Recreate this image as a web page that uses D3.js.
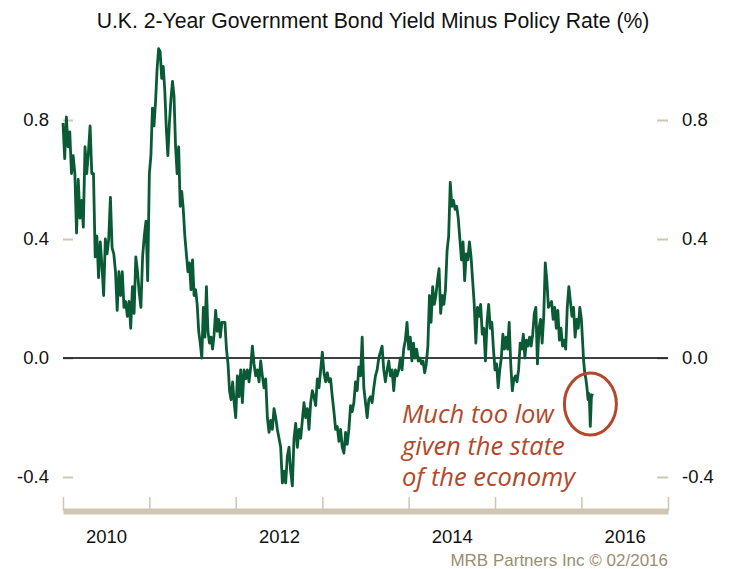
<!DOCTYPE html>
<html>
<head>
<meta charset="utf-8">
<script src="https://cdn.jsdelivr.net/npm/d3@7"></script>
<style>
  body { margin: 0; background: #fff; }
  svg { display: block; font-family: "Liberation Sans", Arial, sans-serif; }
</style>
</head>
<body>
<div id="chart"></div>
<script>
// spread values (2y gilt yield minus Bank Rate, %),
// spaced evenly through each calendar year
const v2010 = [0.79, 0.67, 0.81, 0.71, 0.76, 0.62, 0.68, 0.62, 0.42, 0.60,
  0.47, 0.53, 0.44, 0.71, 0.62, 0.69, 0.78, 0.62, 0.62, 0.34,
  0.41, 0.27, 0.39, 0.31, 0.21, 0.40, 0.35, 0.40, 0.54, 0.37,
  0.35, 0.29, 0.16, 0.29, 0.21, 0.29, 0.17, 0.19, 0.14, 0.19,
  0.10, 0.24, 0.15, 0.34, 0.29, 0.22, 0.17, 0.34, 0.41, 0.46, 0.26];
const v2011 = [0.62, 0.68, 0.84, 0.78, 0.86, 0.97, 1.04, 1.03, 0.94, 0.98, 0.90,
  0.77, 0.68, 0.79, 0.87, 0.93, 0.88, 0.71, 0.62, 0.71,
  0.51, 0.56, 0.50, 0.41, 0.35, 0.29, 0.32, 0.23, 0.33, 0.21,
  0.23, 0.18, 0.09, 0.05, 0.00, 0.17, 0.07, 0.24, 0.09, 0.05,
  0.07, 0.03, 0.08, 0.16, 0.09, 0.13, 0.07, 0.12, 0.12, 0.12,
  0.03, -0.02, -0.11, -0.14, -0.08, -0.15];
const v2012 = [-0.20, -0.06, -0.13, -0.04, -0.15, -0.04, -0.07, -0.04, -0.08, -0.03,
  0.04, -0.02, -0.06, -0.04, -0.08, -0.01, -0.06, -0.10, -0.07, -0.20,
  -0.25, -0.21, -0.24, -0.17, -0.20, -0.24, -0.27, -0.30, -0.42, -0.38,
  -0.42, -0.33, -0.30, -0.38, -0.43, -0.27, -0.22, -0.30, -0.24, -0.27,
  -0.21, -0.15, -0.20, -0.17, -0.24, -0.15, -0.11, -0.13, -0.16, -0.07,
  -0.10, -0.04];
const v2013 = [0.02, -0.05, -0.08, -0.05, -0.08, -0.07, -0.13, -0.18, -0.24, -0.23,
  -0.28, -0.24, -0.30, -0.32, -0.25, -0.29, -0.24, -0.16, -0.18, -0.15,
  -0.08, -0.11, -0.03, -0.06, 0.07, -0.10, -0.15, -0.20, -0.14, -0.13,
  -0.15, -0.10, -0.06, -0.04, 0.00, 0.02, 0.04, -0.04, -0.08, -0.04,
  -0.01, -0.06, -0.04, -0.11, -0.04, -0.06, -0.04, 0.00, -0.04, 0.03,
  0.06, 0.12];
const v2014 = [0.03, 0.07, -0.01, 0.05, 0.00, 0.03, -0.01, 0.00, -0.02, -0.01,
  -0.05, -0.02, 0.04, 0.21, 0.12, 0.24, 0.18, 0.21, 0.26, 0.30,
  0.15, 0.21, 0.18, 0.23, 0.36, 0.41, 0.59, 0.51, 0.53, 0.50,
  0.51, 0.47, 0.40, 0.33, 0.39, 0.26, 0.35, 0.33, 0.39, 0.34,
  0.26, 0.18, 0.05, 0.17, 0.14, 0.18, 0.08, 0.10, -0.01, 0.12,
  0.18, 0.10, 0.12, 0.03];
const v2015 = [-0.04, -0.02, -0.10, -0.04, 0.00, 0.08, 0.03, 0.07, 0.03, 0.12,
  -0.02, -0.11, -0.07, -0.06, -0.08, -0.04, 0.05, 0.03, 0.08, 0.00,
  0.06, 0.04, 0.07, 0.04, 0.08, 0.15, 0.17, -0.02, 0.10, 0.13,
  0.05, 0.14, 0.32, 0.26, 0.17, 0.18, 0.19, 0.13, 0.17, 0.10,
  0.16, 0.06, 0.10, 0.04, 0.06, 0.03, 0.17, 0.24, 0.19, 0.14,
  0.17, 0.07, 0.13, 0.10, 0.17];
// 2016 runs only to mid-February
const v2016 = [0.13, 0.06, -0.01, -0.05, -0.07, -0.10, -0.14, -0.12, -0.23, -0.13, -0.12];
const lastDate = new Date(2016, 1, 17);

const seriesByYear = [
  [2010, v2010], [2011, v2011], [2012, v2012], [2013, v2013],
  [2014, v2014], [2015, v2015], [2016, v2016]
];

const yTicks = [-0.4, 0, 0.4, 0.8];
const yearLabels = [2010, 2012, 2014, 2016];

const title = "U.K. 2-Year Government Bond Yield Minus Policy Rate (%)";
const note = ["Much too low", "given the state", "of the economy"];
const source = "MRB Partners Inc \u00A9 02/2016";

const width = 733, height = 569;
const margin = { top: 120, right: 65, bottom: 92, left: 63 };

const lineColor = "#0b5a36";
const rust = "#b3482b";
const beige = "#cfc7b3";

// build dated points
const data = [];
seriesByYear.forEach(([yr, vals]) => {
  const start = +new Date(yr, 0, 1);
  const partial = yr === lastDate.getFullYear();
  const end = partial ? +lastDate : +new Date(yr + 1, 0, 1);
  const n = partial ? vals.length - 1 : vals.length;
  vals.forEach((v, i) => {
    data.push({ date: new Date(start + (end - start) * i / n), value: v });
  });
});

const svg = d3.select("#chart").append("svg")
  .attr("width", width)
  .attr("height", height);

const x = d3.scaleTime()
  .domain([new Date(2010, 0, 1), new Date(2017, 0, 1)])
  .range([margin.left, width - margin.right]);

const y = d3.scaleLinear()
  .domain([-0.4, 0.8])
  .range([height - margin.bottom, margin.top]);

// title
svg.append("text")
  .attr("x", 373)
  .attr("y", 28)
  .attr("text-anchor", "middle")
  .style("font-size", "21.2px")
  .style("fill", "#111")
  .text(title);

// plain hyphen for negatives, like the original
const fmt = d => d3.format(".1f")(d).replace("\u2212", "-");

// left and right axes, ticks pointing inwards
const leftAxis = d3.axisLeft(y).tickValues(yTicks).tickFormat(fmt)
  .tickSize(-10).tickPadding(14);
const rightAxis = d3.axisRight(y).tickValues(yTicks).tickFormat(fmt)
  .tickSize(-11).tickPadding(14);

[[leftAxis, x.range()[0]], [rightAxis, x.range()[1]]].forEach(([ax, px]) => {
  const g = svg.append("g")
    .attr("transform", `translate(${px},0)`)
    .call(ax);
  g.select(".domain").remove();
  g.selectAll(".tick line").attr("stroke", beige).attr("stroke-width", 2);
  g.selectAll(".tick text")
    .style("font-size", "18.5px")
    .style("font-family", "Liberation Sans, Arial, sans-serif")
    .attr("fill", "#111");
});

// bottom axis: thick beige bar with year ticks
const axisY = 511;
const xAxis = d3.axisBottom(x)
  .tickValues(d3.timeYear.range(new Date(2010, 0, 1), new Date(2017, 0, 2)))
  .tickFormat("")
  .tickSize(-14)
  .tickSizeOuter(0);
const gx = svg.append("g")
  .attr("transform", `translate(0,${axisY})`)
  .call(xAxis);
gx.select(".domain").attr("stroke", beige).attr("stroke-width", 6);
gx.selectAll(".tick line").attr("stroke", beige).attr("stroke-width", 1.5);

// year labels at mid-year
const xLabels = d3.axisBottom(x)
  .tickValues(yearLabels.map(yr => new Date(yr, 6, 2)))
  .tickFormat(d3.timeFormat("%Y"))
  .tickSize(0)
  .tickPadding(0);
const gl = svg.append("g")
  .attr("transform", `translate(0,${axisY + 19})`)
  .call(xLabels);
gl.select(".domain").remove();
gl.selectAll(".tick text")
  .style("font-size", "18.5px")
  .style("font-family", "Liberation Sans, Arial, sans-serif")
  .attr("fill", "#111");

// zero line
svg.append("line")
  .attr("x1", x.range()[0])
  .attr("x2", x.range()[1])
  .attr("y1", y(0))
  .attr("y2", y(0))
  .attr("stroke", "#000")
  .attr("stroke-width", 1.6);

// series
const line = d3.line()
  .x(d => x(d.date))
  .y(d => y(d.value));

svg.append("path")
  .datum(data)
  .attr("fill", "none")
  .attr("stroke", lineColor)
  .attr("stroke-width", 2.8)
  .attr("stroke-linejoin", "round")
  .attr("d", line);

// circled recent reading
svg.append("ellipse")
  .attr("cx", x(new Date(2016, 1, 8)))
  .attr("cy", y(-0.155))
  .attr("rx", 26)
  .attr("ry", 31)
  .attr("fill", "none")
  .attr("stroke", rust)
  .attr("stroke-width", 3);

// annotation
svg.append("g")
  .selectAll("text")
  .data(note)
  .enter()
  .append("text")
  .attr("x", 402)
  .attr("y", (d, i) => 423 + i * 31.5)
  .style("font-family", "'Open Sans', 'Noto Sans', sans-serif")
  .style("font-style", "italic")
  .style("font-size", "25.5px")
  .style("fill", rust)
  .text(d => d);

// source
svg.append("text")
  .attr("x", x.range()[1])
  .attr("y", 566)
  .attr("text-anchor", "end")
  .style("font-size", "17px")
  .style("fill", "#9a8e6e")
  .text(source);
</script>
</body>
</html>
